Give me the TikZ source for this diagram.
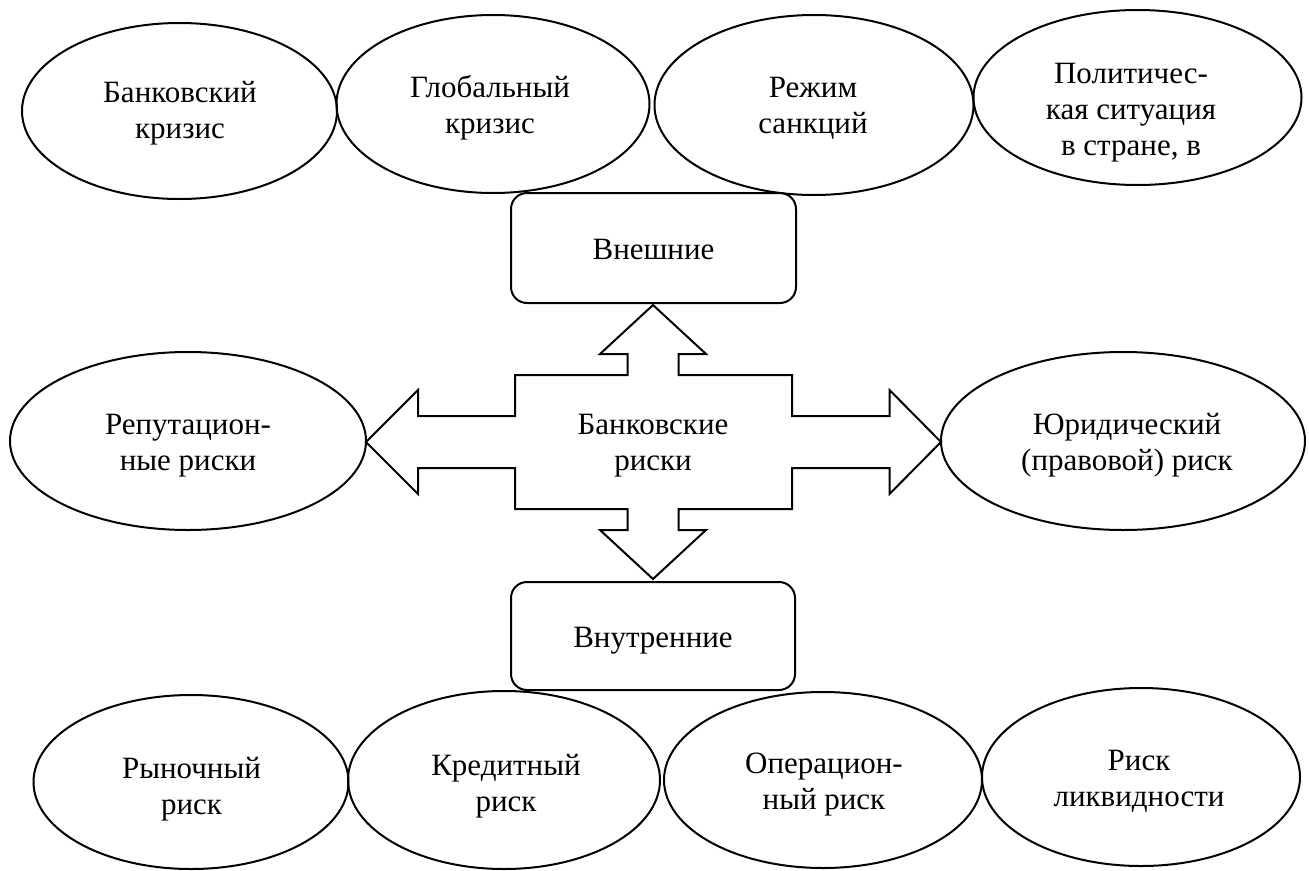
\documentclass[tikz,border=0pt]{standalone}
\usepackage{fontspec}
\setmainfont{Liberation Serif}
\usetikzlibrary{shapes.geometric}
\begin{document}
\begin{tikzpicture}[x=1pt,y=-1pt,
  lbl/.style={font=\fontsize{31}{36}\selectfont, align=center},
  ell/.style={draw, line width=2pt, ellipse, inner sep=0pt},
  rbox/.style={draw, line width=2pt, rounded corners=16pt, inner sep=0pt},
  txt/.style={inner sep=0pt, lbl},
  cross/.style={draw, line width=2pt, line join=miter}]
\useasboundingbox (0,0) rectangle (1309,870);
% top row
\node[ell, minimum width=315pt, minimum height=176pt] (e1) at (179.5,111) {};
\node[ell, minimum width=313pt, minimum height=178pt] (e2) at (493,104) {};
\node[ell, minimum width=319pt, minimum height=180pt] (e3) at (814,105) {};
\node[ell, minimum width=328pt, minimum height=175pt] (e4) at (1137.5,97.5) {};
\node[txt] (t1) at (180,113) {Банковский\\кризис};
\node[txt] (t2) at (490,107.5) {Глобальный\\кризис};
\node[txt] (t3) at (813,108) {Режим\\санкций};
\node[txt] (t4) at (1131,113) {Политичес-\\кая ситуация\\в стране, в};
% boxes
\node[rbox, minimum width=285pt, minimum height=110pt] (b1) at (653.5,248) {};
\node[txt] (tb1) at (653.5,249.5) {Внешние};
\node[rbox, minimum width=284pt, minimum height=108pt] (b2) at (653,636) {};
\node[txt] (tb2) at (653,641) {Внутренние};
% middle row
\node[ell, minimum width=356pt, minimum height=178pt] (eL) at (188,441) {};
\node[ell, minimum width=364pt, minimum height=178pt] (eR) at (1123,441) {};
\node[txt] (tL) at (188,445.5) {Репутацион-\\ные риски};
\node[txt] (tR) at (1127,445) {Юридический\\(правовой) риск};
% cross arrow
\draw[cross] (653,305) -- (706,354) -- (678.5,354) -- (678.5,375) -- (792,375) -- (792,416)
  -- (889.5,416) -- (889.5,390) -- (941,442) -- (889.5,494) -- (889.5,468) -- (792,468)
  -- (792,509) -- (678.5,509) -- (678.5,530) -- (706,530) -- (653,579) -- (600,530)
  -- (627.5,530) -- (627.5,509) -- (515,509) -- (515,468) -- (418,468) -- (418,494)
  -- (366,442) -- (418,390) -- (418,416) -- (515,416) -- (515,375) -- (627.5,375)
  -- (627.5,354) -- (600,354) -- cycle;
\node[txt] (c) at (653,445.5) {Банковские\\риски};
% bottom row
\node[ell, minimum width=315pt, minimum height=174pt] (e5) at (191,782) {};
\node[ell, minimum width=312pt, minimum height=178pt] (e6) at (504,780) {};
\node[ell, minimum width=318pt, minimum height=176pt] (e7) at (823,780) {};
\node[ell, minimum width=318pt, minimum height=178pt] (e8) at (1141,777) {};
\node[txt] (t5) at (191.5,789) {Рыночный\\риск};
\node[txt] (t6) at (506,786) {Кредитный\\риск};
\node[txt] (t7) at (824,784.5) {Операцион-\\ный риск};
\node[txt] (t8) at (1139,781) {Риск\\ликвидности};
\end{tikzpicture}
\end{document}
